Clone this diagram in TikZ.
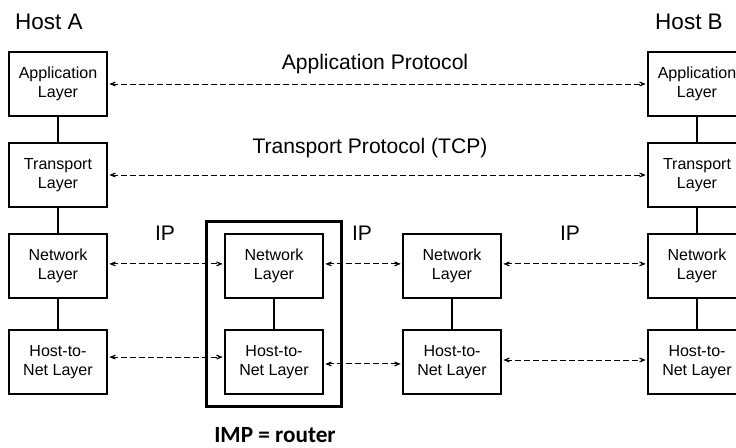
\documentclass[tikz,border=0pt]{standalone}
\usepackage{fontspec}
\setmainfont{Liberation Sans}
\newfontfamily\impfont{Carlito}
\usetikzlibrary{arrows.meta,fit}

\tikzset{
	layer/.style={draw, line width=0.8pt, minimum width=2.45cm, minimum height=1.6cm,
		align=center, font=\fontsize{11.4}{13.5}\selectfont},
	link/.style={line width=0.8pt},
	peer/.style={line width=0.7pt, dash pattern=on 3.8pt off 2.6pt,
		{Stealth[length=3mm,width=2.4mm,inset=2.1mm]}-{Stealth[length=3mm,width=2.4mm,inset=2.1mm]},
		shorten <=1.2pt, shorten >=1.2pt},
	proto/.style={font=\fontsize{15}{18}\selectfont},
	host/.style={font=\fontsize{16}{19}\selectfont}
}

\begin{document}
\begin{tikzpicture}[x=0.025cm,y=-0.025cm]
	\useasboundingbox (0,0) rectangle (736,447);
	% the two hosts
	\foreach \h/\x in {a/58,b/697}{
		\node[layer] (\h app) at (\x,84) {Application\\Layer};
		\node[layer] (\h trn) at (\x,175) {Transport\\Layer};
		\node[layer] (\h net) at (\x,266) {Network\\Layer};
		\node[layer] (\h hnl) at (\x,362) {Host-to-\\Net Layer};
		\draw[link] (\h app) -- (\h trn) -- (\h net) -- (\h hnl);
	}
	\node[host] (hosta) at (49,22) {Host A};
	\node[host] (hostb) at (689,22) {Host B};
	% IMP and the middle router
	\node[layer] (rnet) at (274,266) {Network\\Layer};
	\node[layer] (rhnl) at (274,362) {Host-to-\\Net Layer};
	\draw[link] (rnet) -- (rhnl);
	\node[draw, line width=2pt, inner xsep=0.45cm, inner ysep=0.3cm, fit=(rnet)(rhnl)] (imp) {};
	\node[font=\impfont\bfseries\fontsize{16.5}{19}\selectfont, inner sep=1pt] (implabel) at (275,435) {IMP = router};
	\node[layer] (mnet) at (452,266) {Network\\Layer};
	\node[layer] (mhnl) at (452,362) {Host-to-\\Net Layer};
	\draw[link] (mnet) -- (mhnl);
	% peer protocols
	\draw[peer] (aapp.east) -- (bapp.west);
	\draw[peer] (atrn.east) -- (btrn.west);
	\draw[peer] ([yshift=1.5pt]anet.east) -- ([yshift=1.5pt]rnet.west);
	\draw[peer] ([yshift=1.5pt]rnet.east) -- ([yshift=1.5pt]mnet.west);
	\draw[peer] ([yshift=1.5pt]mnet.east) -- ([yshift=1.5pt]bnet.west);
	\draw[peer] ([yshift=3.5pt]ahnl.east) -- ([yshift=3.5pt]rhnl.west);
	\draw[peer] ([yshift=-1.4pt]rhnl.east) -- ([yshift=-1.4pt]mhnl.west);
	\draw[peer] ([yshift=1.4pt]mhnl.east) -- ([yshift=1.4pt]bhnl.west);
	\node[proto] (approto) at (375,64) {Application Protocol};
	\node[proto] (tcpproto) at (370,148) {Transport Protocol (TCP)};
	\node[proto] (ipa) at (165,233) {IP};
	\node[proto] (ipb) at (362,233) {IP};
	\node[proto] (ipc) at (570,233) {IP};
\end{tikzpicture}
\end{document}
